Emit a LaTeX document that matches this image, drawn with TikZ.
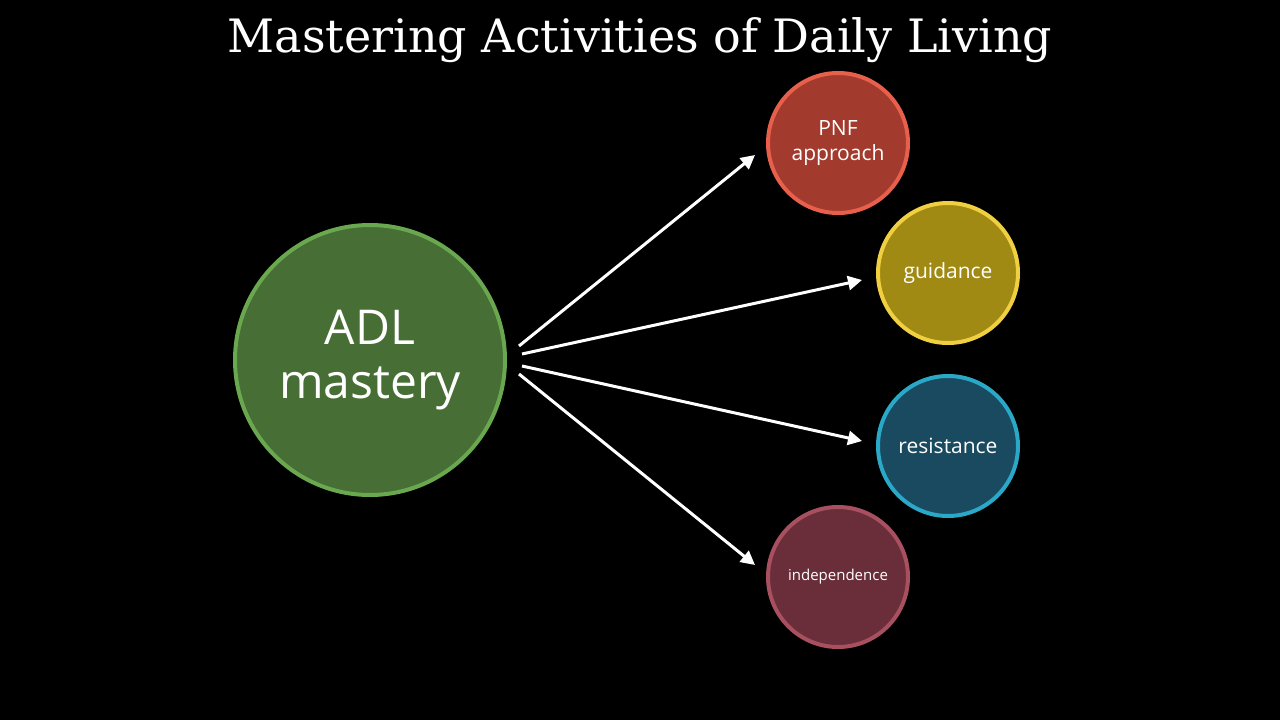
\documentclass[tikz,border=0pt]{standalone}
\usepackage{fontspec}
\setmainfont{Open Sans}
\newfontfamily\titlefont{DejaVu Serif}
\usetikzlibrary{arrows.meta}
\begin{document}
\begin{tikzpicture}[x=1pt,y=-1pt,
  circ/.style={circle,line width=4pt,inner sep=0pt,text=white,align=center},
  arr/.style={draw=white,line width=3pt,-{Triangle[length=14pt,width=14pt]}}]
\fill[black] (0,0) rectangle (1280,720);
\useasboundingbox (0,0) rectangle (1280,720);
\node[text=white,font=\titlefont\fontsize{46}{50}\selectfont] (title) at (640,40) {Mastering Activities of Daily Living};
\definecolor{adlf}{HTML}{476E35}\definecolor{adlb}{HTML}{6AA84F}
\definecolor{pnff}{HTML}{A23B2E}\definecolor{pnfb}{HTML}{E8604C}
\definecolor{guif}{HTML}{A08A14}\definecolor{guib}{HTML}{F0D040}
\definecolor{resf}{HTML}{1A4A60}\definecolor{resb}{HTML}{2AA8C8}
\definecolor{indf}{HTML}{6A2E3A}\definecolor{indb}{HTML}{A85060}
\node[circ,fill=adlf,draw=adlb,minimum size=270pt,font=\fontsize{48}{54}\selectfont] (adl) at (370,360) {ADL\\mastery};
\node[circ,fill=pnff,draw=pnfb,minimum size=140pt,font=\fontsize{21}{25}\selectfont] (pnf) at (838,143) {PNF\\approach};
\node[circ,fill=guif,draw=guib,minimum size=140pt,font=\fontsize{21}{25}\selectfont] (gui) at (948,273) {guidance};
\node[circ,fill=resf,draw=resb,minimum size=140pt,font=\fontsize{21}{25}\selectfont] (res) at (948,446) {resistance};
\node[circ,fill=indf,draw=indb,minimum size=140pt,font=\fontsize{15}{18}\selectfont] (ind) at (838,577) {independence};
\coordinate (s1) at (519,346); \coordinate (e1) at (755,155);
\coordinate (s2) at (522,354); \coordinate (e2) at (862,280);
\coordinate (s3) at (522,366); \coordinate (e3) at (862,441);
\coordinate (s4) at (519,374); \coordinate (e4) at (755,565);
\draw[arr] (s1) -- (e1);
\draw[arr] (s2) -- (e2);
\draw[arr] (s3) -- (e3);
\draw[arr] (s4) -- (e4);
\end{tikzpicture}
\end{document}
